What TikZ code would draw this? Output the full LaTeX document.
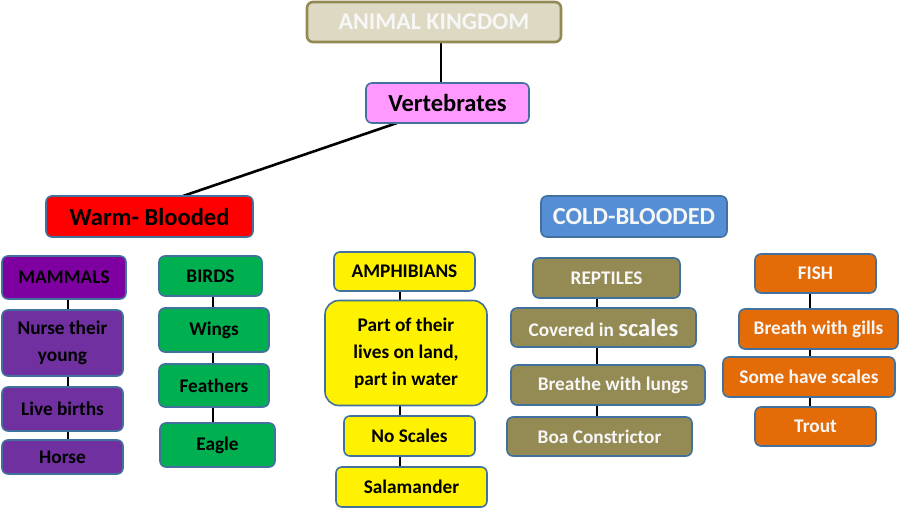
\documentclass[tikz,border=0pt]{standalone}
\usepackage{fontspec}
\setmainfont{Carlito}
\usetikzlibrary{backgrounds}
\definecolor{edgeblue}{HTML}{41719C}
\definecolor{aktan}{HTML}{DDD9C3}
\definecolor{akborder}{HTML}{938953}
\definecolor{vpink}{HTML}{FF99FF}
\definecolor{coldblue}{HTML}{558ED5}
\definecolor{mampurple}{HTML}{7F00A0}
\definecolor{subpurple}{HTML}{7030A0}
\definecolor{birdgreen}{HTML}{00B050}
\definecolor{reptolive}{HTML}{948A54}
\definecolor{fishorange}{HTML}{E36C09}
\tikzset{
  box/.style={draw=edgeblue, line width=1.6pt, rounded corners=6pt, inner sep=0pt, align=center, font=\bfseries\fontsize{19.3}{27}\selectfont},
  big/.style={font=\bfseries\fontsize{24.5}{28}\selectfont},
  conn/.style={line width=2.6pt, black},
  wtext/.style={text=white!97!black}
}
\begin{document}
\begin{tikzpicture}[x=1pt,y=-1pt]
\useasboundingbox (0,0) rectangle (900,520);
% top
\node[box, big, draw=akborder, line width=2.6pt, fill=aktan, wtext, minimum width=254pt, minimum height=40pt, font=\bfseries\fontsize{24}{28}\selectfont] (ak) at (434,22) {ANIMAL KINGDOM};
\node[box, big, fill=vpink, minimum width=163pt, minimum height=40pt] (vert) at (447.5,103) {Vertebrates};
\node[box, big, fill=red, minimum width=207pt, minimum height=41pt] (warm) at (149.5,216.5) {Warm- Blooded};
\node[box, big, fill=coldblue, wtext, minimum width=186pt, minimum height=41pt] (cold) at (634,216.5) {COLD-BLOODED};
% mammals
\node[box, fill=mampurple, minimum width=124pt, minimum height=43pt] (mam) at (64,277.5) {MAMMALS};
\node[box, fill=subpurple, minimum width=121pt, minimum height=66pt] (nurse) at (62.5,343) {Nurse their\\young};
\node[box, fill=subpurple, minimum width=121pt, minimum height=44pt] (live) at (62.5,409) {Live births};
\node[box, fill=subpurple, minimum width=121pt, minimum height=34pt] (horse) at (62.5,457) {Horse};
% birds
\node[box, fill=birdgreen, minimum width=103pt, minimum height=40pt] (birds) at (210.5,276) {BIRDS};
\node[box, fill=birdgreen, minimum width=110pt, minimum height=44pt] (wings) at (214,330) {Wings};
\node[box, fill=birdgreen, minimum width=110pt, minimum height=43pt] (feath) at (214,385.5) {Feathers};
\node[box, fill=birdgreen, minimum width=115pt, minimum height=44pt] (eagle) at (217.5,445) {Eagle};
% amphibians
\node[box, fill=yellow, minimum width=141pt, minimum height=39pt] (amph) at (404.5,271.5) {AMPHIBIANS};
\node[box, fill=yellow, rounded corners=14pt, minimum width=162pt, minimum height=105pt] (part) at (406,353) {Part of their\\lives on land,\\part in water};
\node[box, fill=yellow, minimum width=131pt, minimum height=40pt] (nosc) at (409.5,436) {No Scales};
\node[box, fill=yellow, minimum width=151pt, minimum height=40pt] (sala) at (411.5,487) {Salamander};
% reptiles
\node[box, fill=reptolive, wtext, minimum width=147pt, minimum height=40pt] (rept) at (606.5,278) {REPTILES};
\node[box, fill=reptolive, wtext, minimum width=185pt, minimum height=39pt] (cov) at (603.5,327.5) {Covered in {\fontsize{24.5}{27}\selectfont scales}};
\node[box, fill=reptolive, wtext, minimum width=194pt, minimum height=40pt] (lung) at (608,385) {\hspace{10pt}Breathe with lungs};
\node[box, fill=reptolive, wtext, minimum width=185pt, minimum height=39pt] (boa) at (599.5,436.5) {Boa Constrictor};
% fish
\node[box, fill=fishorange, wtext, minimum width=121pt, minimum height=39pt] (fish) at (815.5,273.5) {FISH};
\node[box, fill=fishorange, wtext, minimum width=159pt, minimum height=40pt] (gill) at (818.5,329) {Breath with gills};
\node[box, fill=fishorange, wtext, minimum width=172pt, minimum height=40pt] (some) at (809,377) {Some have scales};
\node[box, fill=fishorange, wtext, minimum width=121pt, minimum height=39pt] (trout) at (815.5,426.5) {Trout};
% connector columns
\coordinate (cxa) at (441,0);
\coordinate (cxm) at (68,0);
\coordinate (cxb) at (213,0);
\coordinate (cxp) at (400,0);
\coordinate (cxr) at (597,0);
\coordinate (cxf) at (810,0);
\coordinate (vl) at (397,123);
\coordinate (wl) at (183,196);
\begin{scope}[on background layer]
\draw[conn] (ak.south -| cxa) -- (vert.north -| cxa);
\draw[conn] (vl) -- (wl);
\draw[conn] (mam.south -| cxm) -- (horse.north -| cxm);
\draw[conn] (birds.south -| cxb) -- (eagle.north -| cxb);
\draw[conn] (amph.south -| cxp) -- (sala.north -| cxp);
\draw[conn] (rept.south -| cxr) -- (boa.north -| cxr);
\draw[conn] (fish.south -| cxf) -- (trout.north -| cxf);
\end{scope}
\end{tikzpicture}
\end{document}
